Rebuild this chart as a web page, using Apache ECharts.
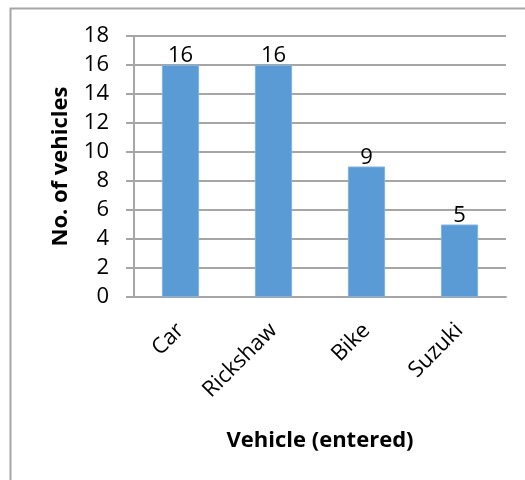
<!DOCTYPE html>
<html>
<head>
<meta charset="utf-8">
<script src="https://cdn.jsdelivr.net/npm/echarts@6/dist/echarts.min.js"></script>
<style>
  html, body { margin: 0; padding: 0; background: #fff; }
  #chart { width: 525px; height: 480px; }
</style>
</head>
<body>
<div id="chart"></div>
<script>
// Vehicles counted by type
const categories = ['Car', 'Rickshaw', 'Bike', 'Suzuki'];
const vehicleCounts = [16, 16, 9, 5];
const yTicks = { min: 0, max: 18, interval: 2 };

const FONT = '"Open Sans", "Noto Sans", sans-serif';

const chart = echarts.init(document.getElementById('chart'), null, { renderer: 'canvas' });

chart.setOption({
  animation: false,
  backgroundColor: '#ffffff',
  graphic: [{
    type: 'rect',
    left: 8, top: 6,
    shape: { width: 600, height: 600 },
    style: { fill: 'none', stroke: '#a6a6a6', lineWidth: 2 },
    silent: true
  }],
  grid: { left: 134, right: 19, top: 36, bottom: 183, containLabel: false },
  xAxis: {
    type: 'category',
    data: categories,
    name: 'Vehicle (entered)',
    nameLocation: 'middle',
    nameGap: 133,
    nameMoveOverlap: false,
    nameTextStyle: { fontFamily: FONT, fontSize: 22, fontWeight: 'bold', color: '#000' },
    axisLine: { show: true, lineStyle: { color: '#a6a6a6', width: 2 } },
    axisTick: { show: false },
    axisLabel: {
      rotate: 45,
      margin: 30,
      fontFamily: FONT, fontSize: 22, color: '#000'
    },
    splitLine: { show: false }
  },
  yAxis: {
    type: 'value',
    min: yTicks.min, max: yTicks.max, interval: yTicks.interval,
    name: 'No. of vehicles',
    nameLocation: 'middle',
    nameGap: 62,
    nameMoveOverlap: false,
    nameTextStyle: { fontFamily: FONT, fontSize: 22, fontWeight: 'bold', color: '#000' },
    axisLine: { show: true, lineStyle: { color: '#a6a6a6', width: 2 } },
    axisTick: { show: true, length: 8, lineStyle: { color: '#a6a6a6', width: 2 } },
    axisLabel: { margin: 25, fontFamily: FONT, fontSize: 22, color: '#000' },
    splitLine: { show: true, lineStyle: { color: '#a6a6a6', width: 2 } }
  },
  series: [{
    type: 'bar',
    data: vehicleCounts,
    barWidth: '40%',
    itemStyle: { color: '#5b9bd5', borderColor: '#7fb2e0', borderWidth: 1 },
    label: {
      show: true,
      position: 'top',
      distance: -2,
      fontFamily: FONT, fontSize: 22, color: '#000'
    }
  }]
});
</script>
</body>
</html>
